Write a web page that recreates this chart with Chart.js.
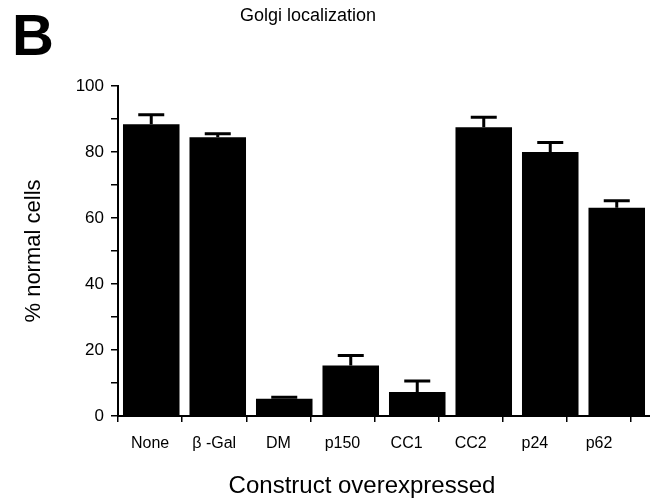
<!DOCTYPE html>
<html>
<head>
<meta charset="utf-8">
<script src="https://cdn.jsdelivr.net/npm/chart.js@4/dist/chart.umd.min.js"></script>
<style>
  html, body { margin: 0; padding: 0; background: #fff; }
  #wrap { width: 650px; height: 502px; }
</style>
</head>
<body>
<div id="wrap"><canvas id="golgiChart" width="650" height="502"></canvas></div>
<script>
// Golgi localization bar chart (panel B)
// data
const categories = ['None', 'β -Gal', 'DM', 'p150', 'CC1', 'CC2', 'p24', 'p62'];
const percentNormal = [88.4, 84.5, 5.2, 15.3, 7.3, 87.5, 80.0, 63.1];
const errorUp = [2.9, 1.0, 0.5, 3.0, 3.3, 3.0, 2.9, 2.1];

const panelLetter = 'B';
const chartTitle = 'Golgi localization';
const xTitle = 'Construct overexpressed';
const yTitle = '% normal cells';

const FONT = '"Liberation Sans", Arial, Helvetica, sans-serif';

// upward error bars with a cap, drawn from the bar elements
const errorBars = {
    id: 'errorBars',
    afterDatasetsDraw(chart) {
        const ctx = chart.ctx;
        const yScale = chart.scales.y;
        const bars = chart.getDatasetMeta(0).data;
        ctx.save();
        ctx.strokeStyle = '#000';
        ctx.lineWidth = 3;
        bars.forEach((bar, i) => {
            const yTop = yScale.getPixelForValue(percentNormal[i] + errorUp[i]);
            ctx.beginPath();
            ctx.moveTo(bar.x, bar.y);
            ctx.lineTo(bar.x, yTop);
            ctx.moveTo(bar.x - 13, yTop);
            ctx.lineTo(bar.x + 13, yTop);
            ctx.stroke();
        });
        ctx.restore();
    }
};

// panel letter, title and x-axis title
const figureText = {
    id: 'figureText',
    afterDraw(chart) {
        const ctx = chart.ctx;
        ctx.save();
        ctx.fillStyle = '#000';
        ctx.textBaseline = 'alphabetic';
        ctx.textAlign = 'left';
        ctx.font = 'bold 58px ' + FONT;
        ctx.fillText(panelLetter, 12, 55);
        ctx.textAlign = 'center';
        ctx.font = '18px ' + FONT;
        ctx.fillText(chartTitle, 308, 21);
        ctx.font = '24px ' + FONT;
        ctx.fillText(xTitle, 362, 493);
        ctx.restore();
    }
};

const ctx = document.getElementById('golgiChart').getContext('2d');
new Chart(ctx, {
    type: 'bar',
    data: {
        labels: categories,
        datasets: [{
            data: percentNormal,
            backgroundColor: '#000',
            borderWidth: 0,
            barPercentage: 0.85,
            categoryPercentage: 1.0
        }]
    },
    options: {
        responsive: false,
        animation: false,
        layout: { padding: { top: 86, left: 0, right: 0, bottom: 0 } },
        plugins: {
            legend: { display: false },
            title: { display: false },
            tooltip: { enabled: false }
        },
        scales: {
            x: { display: false },
            // tick marks sit between the labels, spaced slightly tighter than the bars
            xt: {
                type: 'linear',
                position: 'bottom',
                offset: false,
                min: -0.5,
                max: 7.795,
                afterBuildTicks(scale) {
                    const t = [];
                    for (let k = 0; k <= 16; k++) t.push({ value: -0.5 + k * 0.5 });
                    scale.ticks = t;
                },
                afterFit(scale) { scale.height = 86; },
                ticks: {
                    autoSkip: false,
                    maxRotation: 0,
                    padding: 12,
                    color: '#000',
                    font: { family: FONT, size: 16 },
                    callback: (v) => Number.isInteger(v) ? categories[v] : ''
                },
                grid: {
                    offset: false,
                    drawOnChartArea: false,
                    tickLength: 6,
                    lineWidth: 1.5,
                    color: (c) => (c.tick && Number.isInteger(c.tick.value)) ? 'rgba(0,0,0,0)' : '#000'
                },
                border: { display: true, color: '#000', width: 2 }
            },
            y: {
                min: 0,
                max: 100,
                afterFit(scale) { scale.width = 118; },
                ticks: {
                    stepSize: 10,
                    padding: 7,
                    color: '#000',
                    font: { family: FONT, size: 17 },
                    callback: (v) => v % 20 === 0 ? v : ''
                },
                grid: {
                    drawOnChartArea: false,
                    tickLength: 7,
                    lineWidth: 1.5,
                    color: '#000'
                },
                border: { display: true, color: '#000', width: 2 },
                title: {
                    display: true,
                    text: yTitle,
                    color: '#000',
                    font: { family: FONT, size: 22 },
                    padding: { top: 21, bottom: 0 }
                }
            }
        }
    },
    plugins: [errorBars, figureText]
});
</script>
</body>
</html>
